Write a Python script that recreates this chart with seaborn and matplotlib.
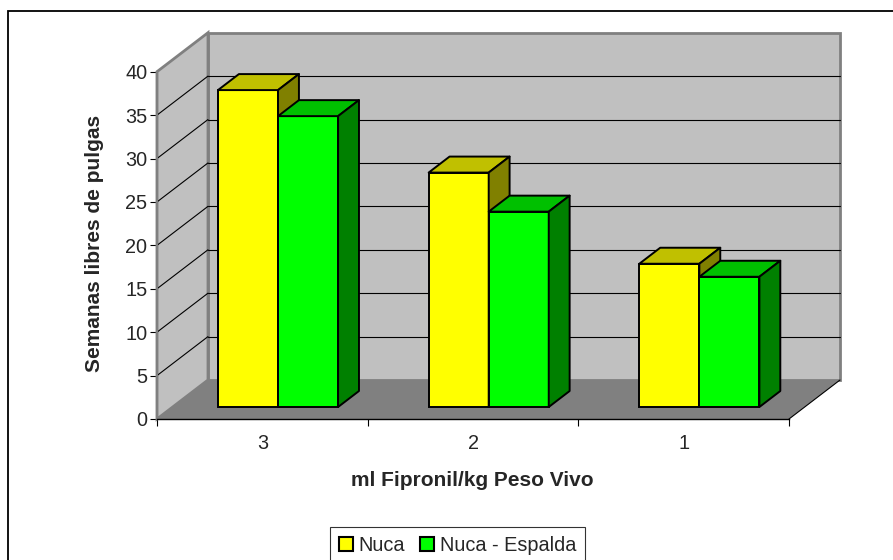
import matplotlib
matplotlib.use("Agg")
import matplotlib.pyplot as plt
from matplotlib.patches import Polygon, Rectangle, Patch
import seaborn as sns
import pandas as pd

# ---- data ----
categories = ["3", "2", "1"]
series = ["Nuca", "Nuca - Espalda"]
nuca = [36.5, 27.0, 16.5]
nuca_espalda = [33.5, 22.5, 15.0]
y_ticks = [0, 5, 10, 15, 20, 25, 30, 35, 40]

front_colors = ["#FFFF00", "#00FF00"]
top_colors = ["#C0C000", "#00C000"]
side_colors = ["#808000", "#008000"]

df = pd.DataFrame({
    "dosis": categories * 2,
    "semanas": nuca + nuca_espalda,
    "serie": [series[0]] * len(categories) + [series[1]] * len(categories),
})

sns.set_style("white")
plt.rcParams["font.family"] = ["Liberation Sans", "DejaVu Sans"]

FS = 14.3
FSL = 15.0
W, H = 893, 560
fig = plt.figure(figsize=(W / 100, H / 100), dpi=100)
ax_l, ax_r, ax_b, ax_t = 157, 789, 419, 71.7
ax = fig.add_axes([ax_l / W, (H - ax_b) / H, (ax_r - ax_l) / W, (ax_b - ax_t) / H])
ax.patch.set_alpha(0)

sns.barplot(data=df, x="dosis", y="semanas", hue="serie", order=categories,
            hue_order=series, palette=front_colors, width=0.57, gap=0,
            saturation=1, edgecolor="black", linewidth=1.4, legend=False, ax=ax)

ax.set_xlim(-0.5, 2.5)
ax.set_ylim(0, 40)
sx = 3.0 / (ax_r - ax_l)
sy = 40.0 / (ax_b - ax_t)

# depth geometry (pixels)
DX, DY = 51, 39          # full depth of the box
BX, BY = 15.7, 12        # front of bars
bx, by = 20.9, 16        # depth of bars

x0w, x1w = -0.5, 2.5
floor = Polygon([(x0w, 0), (x1w, 0), (x1w + DX * sx, DY * sy), (x0w + DX * sx, DY * sy)],
                closed=True, facecolor="#808080", edgecolor="none", zorder=1, clip_on=False)
ax.add_patch(floor)
back = Polygon([(x0w + DX * sx, DY * sy), (x1w + DX * sx, DY * sy),
                (x1w + DX * sx, 40 + DY * sy), (x0w + DX * sx, 40 + DY * sy)],
               closed=True, facecolor="#C0C0C0", edgecolor="#808080", linewidth=2,
               zorder=0.5, clip_on=False)
ax.add_patch(back)
side = Polygon([(x0w, 0), (x0w + DX * sx, DY * sy), (x0w + DX * sx, 40 + DY * sy), (x0w, 40)],
               closed=True, facecolor="#C0C0C0", edgecolor="#808080", linewidth=2,
               zorder=0.6, clip_on=False)
ax.add_patch(side)
ax.plot([x1w, x1w + DX * sx], [0, DY * sy], color="black", lw=0.8, zorder=1.1, clip_on=False)
for v in y_ticks[1:-1]:
    ax.plot([x0w + DX * sx, x1w + DX * sx], [v + DY * sy, v + DY * sy],
            color="black", lw=0.8, zorder=0.7, clip_on=False)
    ax.plot([x0w, x0w + DX * sx], [v, v + DY * sy],
            color="black", lw=0.8, zorder=0.7, clip_on=False)

# 3D bars
for i, cont in enumerate(ax.containers):
    for j, rect in enumerate(cont):
        base = 10 + j * 4 + i * 2
        x0 = rect.get_x() + BX * sx
        w = rect.get_width()
        h = rect.get_height()
        y0 = BY * sy
        rect.set_x(x0)
        rect.set_y(y0)
        rect.set_zorder(base)
        rect.set_clip_on(False)
        top = Polygon([(x0, y0 + h), (x0 + w, y0 + h), (x0 + w + bx * sx, y0 + h + by * sy),
                       (x0 + bx * sx, y0 + h + by * sy)], closed=True,
                      facecolor=top_colors[i], edgecolor="black", linewidth=1.4,
                      joinstyle="round", zorder=base + 0.5, clip_on=False)
        sidep = Polygon([(x0 + w, y0), (x0 + w + bx * sx, y0 + by * sy),
                         (x0 + w + bx * sx, y0 + h + by * sy), (x0 + w, y0 + h)], closed=True,
                        facecolor=side_colors[i], edgecolor="black", linewidth=1.4,
                        joinstyle="round", zorder=base + 0.5, clip_on=False)
        ax.add_patch(top)
        ax.add_patch(sidep)

# axes styling
for s in ["top", "right"]:
    ax.spines[s].set_visible(False)
ax.spines["left"].set_color("#808080")
ax.spines["left"].set_linewidth(1.5)
ax.spines["left"].set_zorder(2)
ax.spines["bottom"].set_color("black")
ax.spines["bottom"].set_linewidth(1.0)
ax.spines["bottom"].set_zorder(2)

ax.set_yticks(y_ticks)
ax.set_yticklabels([str(t) for t in y_ticks])
ax.tick_params(axis="y", which="major", direction="out", length=5, width=0.8,
               color="black", pad=2, labelsize=FS, left=True)
ax.set_xticks([0, 1, 2])
ax.set_xticklabels(categories)
ax.set_xticks([-0.5, 0.5, 1.5, 2.5], minor=True)
ax.tick_params(axis="x", which="major", length=0, pad=11, labelsize=FS)
ax.tick_params(axis="x", which="minor", direction="out", length=5, width=0.8,
               color="black", bottom=True)
ax.set_xlabel("")
ax.set_ylabel("")

fig.text(472 / W, 1 - 481 / H, "ml Fipronil/kg Peso Vivo", ha="center", va="center",
         fontsize=FSL, fontweight="bold")
fig.text(95 / W, 1 - 243 / H, "Semanas libres de pulgas", ha="center", va="center",
         rotation=90, fontsize=FSL, fontweight="bold")

handles = [Patch(facecolor=c, edgecolor="black", linewidth=1.5) for c in front_colors]
leg = fig.legend(handles, series, loc="upper left", bbox_to_anchor=(330 / W, 1 - 527.3 / H),
                 ncol=2, frameon=True, fancybox=False, fontsize=FS, handlelength=0.7,
                 handleheight=0.7, handletextpad=0.3, columnspacing=0.75,
                 borderpad=0.45, borderaxespad=0)
leg.get_frame().set_edgecolor("black")
leg.get_frame().set_linewidth(0.8)

fig.patches.append(Rectangle((8 / W, -0.2), 1.5, 1.2 - 11 / H, transform=fig.transFigure,
                             fill=False, edgecolor="black", linewidth=1.3))

fig.savefig("out.png", dpi=100)
